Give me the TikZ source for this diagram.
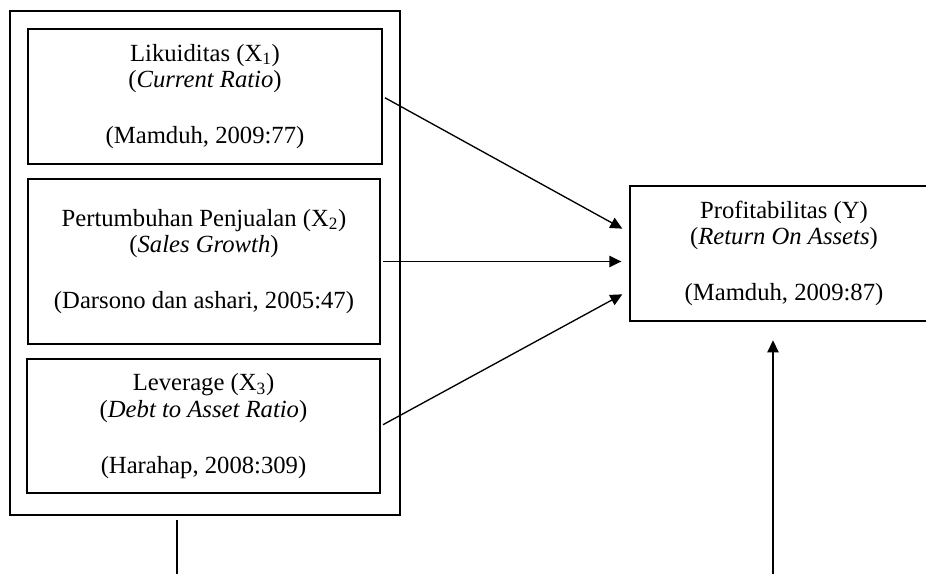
\documentclass[tikz,border=0pt]{standalone}
\usepackage{fontspec}
\setmainfont{Liberation Serif}
\usetikzlibrary{arrows.meta,calc}

\begin{document}
\begin{tikzpicture}[x=0.75pt,y=-0.75pt,line width=1pt,
  kotak/.style={draw,rectangle,align=center,inner sep=0pt,font=\fontsize{18.5}{20}\selectfont},
  panah/.style={-{Triangle[length=9pt,width=8.5pt]},shorten <=2pt,shorten >=6pt}]
\useasboundingbox (0,0) rectangle (926,574);

\path (205,263) node[draw,minimum width=292.5pt,minimum height=378pt](grup){};
\path (205,96.5) node[kotak,minimum width=265.5pt,minimum height=101.25pt](lik){Likuiditas (X\textsubscript{1})\\(\textit{Current Ratio})\\[22pt](Mamduh, 2009:77)};
\path (204,261.5) node[kotak,minimum width=264pt,minimum height=123.75pt](pen){Pertumbuhan Penjualan (X\textsubscript{2})\\(\textit{Sales Growth})\\[22pt](Darsono dan ashari, 2005:47)};
\path (203.5,426) node[kotak,minimum width=264.75pt,minimum height=100.5pt](lev){Leverage (X\textsubscript{3})\\(\textit{Debt to Asset Ratio})\\[22pt](Harahap, 2008:309)};
\path (784,253.5) node[kotak,minimum width=231pt,minimum height=101.25pt](prof){Profitabilitas (Y)\\(\textit{Return On Assets})\\[22pt](Mamduh, 2009:87)};

\coordinate (bawahX) at (177,574);
\coordinate (bawahY) at (773,574);

\draw[panah] (lik.east) -- ($(prof.west |- pen.east)+(0,-29)$);
\draw[panah] (pen.east) -- (prof.west |- pen.east);
\draw[panah] (lev.east) -- ($(prof.west |- pen.east)+(0,29)$);
\draw (grup.south -| bawahX) ++(0,4) -- (bawahX);
\draw[panah,shorten <=0pt,shorten >=14pt] (bawahY) -- (prof.south -| bawahY);
\end{tikzpicture}
\end{document}
